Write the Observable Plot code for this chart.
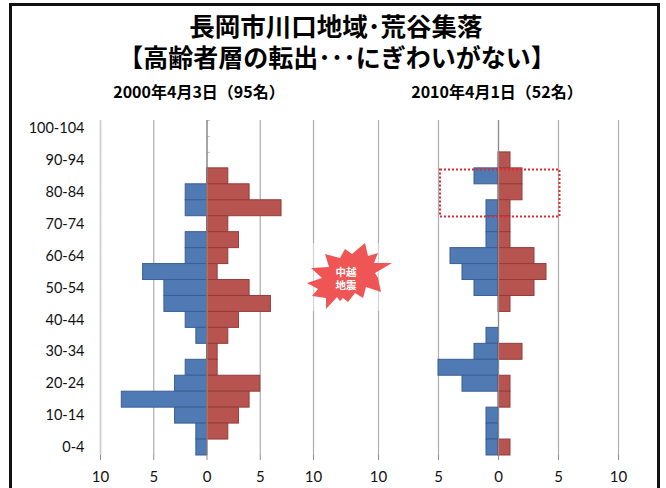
<!DOCTYPE html>
<html><head><meta charset="utf-8">
<script src="https://cdn.jsdelivr.net/npm/d3@7"></script>
<script src="https://cdn.jsdelivr.net/npm/@observablehq/plot@0.6"></script>
<style>
html,body{margin:0;padding:0;background:#fff;overflow:hidden}
#page{position:relative;width:666px;height:488px;overflow:hidden}
#frame{position:absolute;left:9px;top:3px;width:651px;height:500px;border:3px solid #111;box-sizing:border-box}
.t{position:absolute;font-family:"Noto Sans CJK JP",sans-serif;font-weight:700;color:#000;white-space:nowrap;text-align:center}
.p{position:absolute;left:0;top:0}
</style></head><body><div id="page">
<div id="frame"></div>
<div class="t" style="left:0;width:672px;top:9px;font-size:25.5px;line-height:32px">長岡市川口地域･荒谷集落</div>
<div class="t" style="left:0;width:674px;top:40px;font-size:25px;line-height:32px">【高齢者層の転出･･･にぎわいがない】</div>
<div class="t" style="left:94px;width:210px;top:80px;font-size:16px;line-height:22px">2000年4月3日（95名）</div>
<div class="t" style="left:392px;width:210px;top:80px;font-size:16px;line-height:22px">2010年4月1日（52名）</div>
<div id="charts"></div>
<svg id="star" class="p" width="666" height="488" style="pointer-events:none"></svg>
<div class="t" style="left:326px;width:40px;top:265px;font-size:10.5px;line-height:13px;color:#fff">中越<br>地震</div>
</div>
<script>
const ageGroups = ["100-104","95-99","90-94","85-89","80-84","75-79","70-74","65-69","60-64","55-59","50-54","45-49","40-44","35-39","30-34","25-29","20-24","15-19","10-14","5-9","0-4"];
const blue2000 = [0,0,0,0,2,2,0,2,2,6,4,4,2,1,0,2,3,8,3,1,1];
const red2000  = [0,0,0,2,4,7,2,3,2,1,4,6,3,2,1,1,5,4,3,2,0];
const blue2010 = [0,0,0,2,0,1,1,1,4,3,2,0,0,1,2,5,3,0,1,1,1];
const red2010  = [0,0,1,2,2,1,1,1,3,4,3,1,0,0,2,0,1,1,0,0,1];
const xTicks = [-10,-5,0,5,10];
const labelledAges = ["100-104","90-94","80-84","70-74","60-64","50-54","40-44","30-34","20-24","10-14","0-4"];
const emptyTopAges = ["100-104","95-99","90-94","85-89"];
const starPoints = "365,243 368,256 378,253 374,263 392,263 375,273 378,278 381,292 366,287 363,298 355,293 348,302 343,298 340,301 337,297 326,309 326,298 312,296 318,289 307,283 322,278 311,268 329,267 325,254 340,258 345,249 352,254";
const BLUE="#4f7ab3", RED="#b85450", BLUE_E="#3a5f91", RED_E="#943c3a", GRID="#adadad";

function pyramid(blue, red, opts){
  return Plot.plot({
    width:666,height:488,
    marginLeft:opts.left,marginRight:666-opts.right,marginTop:120,marginBottom:33,
    style:{background:"transparent",fontFamily:"Lato, sans-serif",overflow:"visible"},
    x:{domain:[-10,10],axis:null},
    y:{domain:ageGroups,padding:0,round:false,axis:null},
    marks:[
      Plot.ruleX(xTicks,{stroke:GRID,strokeWidth:1.2}),
      ...(opts.labels?[Plot.ruleX([-10],{stroke:"#cfcfcf",strokeWidth:1.6}),
        Plot.ruleY(emptyTopAges,{x1:0,x2:0.3,y:d=>d,dy:-8,stroke:"#b5b5b5"})]:[]),
      Plot.barX(ageGroups,{x1:0,x2:(d,i)=>-blue[i],y:d=>d,fill:BLUE,stroke:BLUE_E,strokeWidth:1,filter:(d,i)=>blue[i]>0}),
      Plot.barX(ageGroups,{x1:0,x2:(d,i)=>red[i],y:d=>d,fill:RED,stroke:RED_E,strokeWidth:1,filter:(d,i)=>red[i]>0}),
      Plot.ruleX([0],{stroke:"#8c8c8c",strokeWidth:1.2}),
      Plot.axisX({ticks:xTicks,tickFormat:Math.abs,tickSize:5,tickPadding:11,stroke:"#8c8c8c",fontSize:15,color:"#111"}),
      ...(opts.labels?[Plot.axisY({ticks:labelledAges,anchor:"left",tickSize:0,tickPadding:16,fontSize:14.5,label:null,color:"#111"})]:[])
    ]
  });
}
const host=document.getElementById("charts");
const a=pyramid(blue2000,red2000,{left:100,right:313,labels:true});
const b=pyramid(blue2010,red2010,{left:378,right:618,labels:false});
a.classList.add("p");b.classList.add("p");
host.append(a,b);

const s=d3.select("#star");
s.append("rect").attr("x",440).attr("y",169.5).attr("width",119.5).attr("height",47).attr("fill","none").attr("stroke","#e8262c").attr("stroke-width",2).attr("stroke-dasharray","2 2");
s.append("rect").attr("x",312).attr("y",243).attr("width",68).attr("height",68).attr("fill","#fff").attr("fill-opacity",0.45);
s.append("polygon").attr("points",starPoints).attr("fill","#ef5555");
</script></body></html>
